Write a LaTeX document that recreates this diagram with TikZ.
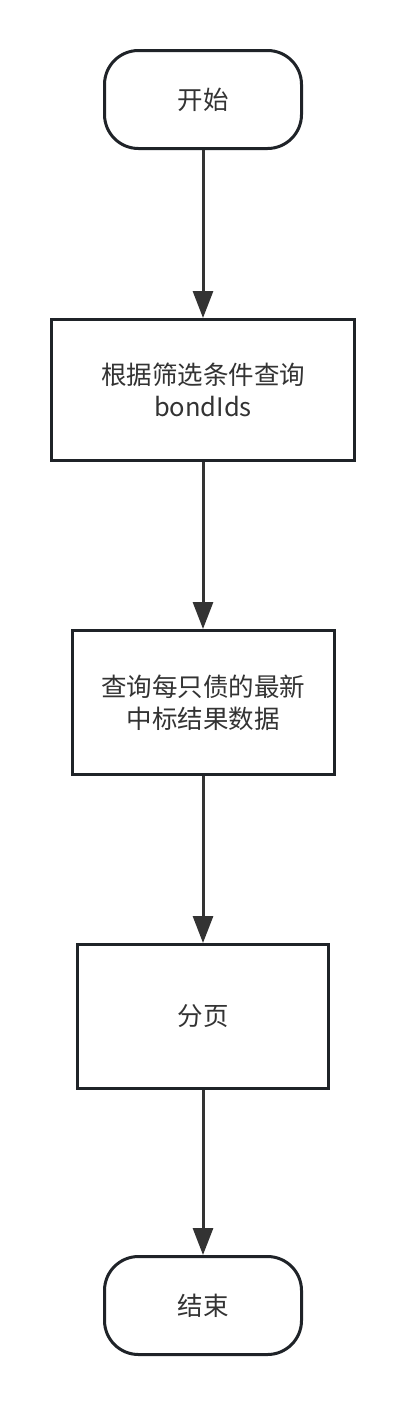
\documentclass[tikz,border=0pt]{standalone}
\usepackage{fontspec}
\setmainfont{Noto Sans CJK SC}
\usetikzlibrary{arrows.meta}
\definecolor{edge}{HTML}{1F2328}
\definecolor{txt}{HTML}{333333}
\begin{document}
\begin{tikzpicture}[x=1pt,y=-1pt,
  base/.style={draw=edge,line width=3pt,fill=white,inner sep=0pt,align=center,
    text=txt,font=\fontsize{25.5}{32}\selectfont},
  term/.style={base,rounded corners=34pt,minimum width=197pt,minimum height=98pt},
  proc/.style={base},
  flow/.style={draw=txt,line width=3pt,-{Triangle[length=27pt,width=20pt]}}]
\useasboundingbox[fill=white] (0,0) rectangle (406,1406);
\node[term] (start) at (203,99.5) {开始};
\node[proc,minimum width=303pt,minimum height=141pt] (query) at (203,390) {根据筛选条件查询\\bondIds};
\node[proc,minimum width=262pt,minimum height=144pt] (latest) at (203,702.5) {查询每只债的最新\\中标结果数据};
\node[proc,minimum width=251pt,minimum height=144pt] (page) at (203,1016.5) {分页};
\node[term] (end) at (203,1305.5) {结束};
\draw[flow] (start) -- (query);
\draw[flow] (query) -- (latest);
\draw[flow] (latest) -- (page);
\draw[flow] (page) -- (end);
\end{tikzpicture}
\end{document}
